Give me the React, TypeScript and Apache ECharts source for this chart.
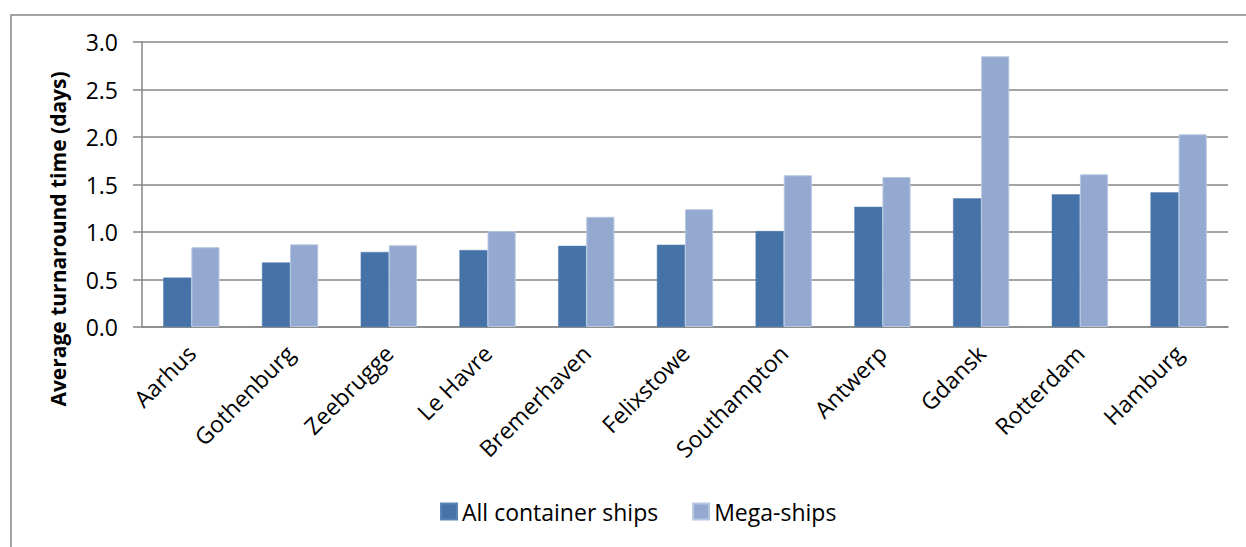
import React, { useEffect, useRef } from "react";
import * as echarts from "echarts";

const categories = [
  "Aarhus",
  "Gothenburg",
  "Zeebrugge",
  "Le Havre",
  "Bremerhaven",
  "Felixstowe",
  "Southampton",
  "Antwerp",
  "Gdansk",
  "Rotterdam",
  "Hamburg",
];
const allShips = [0.52, 0.68, 0.79, 0.81, 0.855, 0.866, 1.01, 1.266, 1.355, 1.397, 1.418];
const megaShips = [0.84, 0.87, 0.86, 1.01, 1.16, 1.24, 1.597, 1.579, 2.85, 1.607, 2.028];
const seriesNames = ["All container ships", "Mega-ships"];
const yAxisTitle = "Average turnaround time (days)";

const FONT = "'Open Sans', Lato, sans-serif";

export default function App() {
  const ref = useRef<HTMLDivElement>(null);
  useEffect(() => {
    if (!ref.current) return;
    const chart = echarts.init(ref.current, undefined, { renderer: "svg" });
    chart.setOption({
      animation: false,
      backgroundColor: "#ffffff",
      textStyle: { fontFamily: FONT },
      grid: { left: 142, right: 18, top: 42, bottom: 220, containLabel: false },
      legend: {
        data: seriesNames,
        left: 435,
        top: 495,
        itemWidth: 16,
        itemHeight: 16,
        itemGap: 34,
        icon: "rect",
        textStyle: { fontSize: 23, color: "#000", fontFamily: FONT },
      },
      xAxis: {
        type: "category",
        data: categories,
        axisLine: { show: true, lineStyle: { color: "#868686", width: 1.5 } },
        axisTick: { show: false },
        axisLabel: {
          rotate: 45,
          margin: 22,
          fontSize: 23,
          color: "#000",
          fontFamily: FONT,
          interval: 0,
        },
      },
      yAxis: {
        type: "value",
        min: 0,
        max: 3,
        interval: 0.5,
        axisLine: { show: true, lineStyle: { color: "#868686", width: 1.5 } },
        axisTick: { show: true, length: 9, lineStyle: { color: "#868686", width: 1.5 } },
        splitLine: { show: true, lineStyle: { color: "#868686", width: 1.5 } },
        axisLabel: {
          fontSize: 23,
          color: "#000",
          fontFamily: FONT,
          margin: 24,
          formatter: (v: number) => v.toFixed(1),
        },
      },
      series: [
        {
          name: seriesNames[0],
          type: "bar",
          data: allShips,
          barGap: "0%",
          barCategoryGap: "43%",
          itemStyle: { color: "#4572A7", borderColor: "#5a83b5", borderWidth: 0.5 },
        },
        {
          name: seriesNames[1],
          type: "bar",
          data: megaShips,
          itemStyle: { color: "#93A9CF", borderColor: "#b7c7e2", borderWidth: 1 },
        },
      ],
      graphic: [
        {
          type: "rect",
          left: 8.5,
          top: 12.5,
          shape: { x: 0, y: 0, width: 1260, height: 560 },
          style: { fill: "none", stroke: "#868686", lineWidth: 1.5 },
          silent: true,
        },
        {
          type: "text",
          x: 58,
          y: 239,
          rotation: Math.PI / 2,
          style: {
            text: yAxisTitle,
            fontSize: 21,
            fontWeight: "bold",
            fontFamily: FONT,
            fill: "#000",
            align: "center",
            verticalAlign: "middle",
          },
        },
      ],
    });
    return () => chart.dispose();
  }, []);
  return (
    <div
      ref={ref}
      style={{ position: "fixed", left: 0, top: 0, width: 1246, height: 547 }}
    />
  );
}
